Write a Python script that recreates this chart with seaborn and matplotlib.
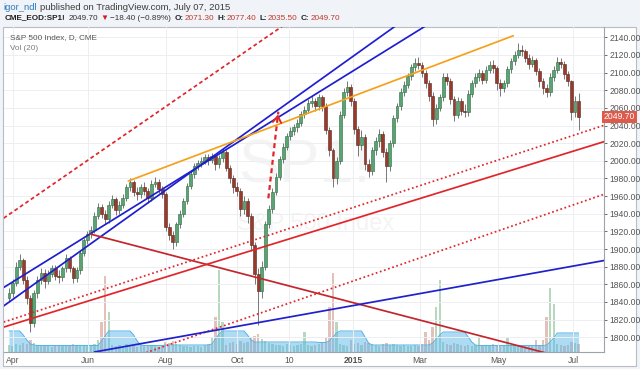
import numpy as np
import pandas as pd
import matplotlib
matplotlib.use("Agg")
import matplotlib.pyplot as plt
import seaborn as sns
from matplotlib.patches import Rectangle

# ---- daily candles, aggregated two sessions per candle ----
first_open = 1845
closes = [1850, 1862, 1880, 1888, 1865, 1845, 1816, 1850, 1865, 1873,
          1864, 1872, 1878, 1870, 1868, 1878, 1890, 1878, 1867, 1876,
          1895, 1910, 1917, 1922, 1938, 1948, 1940, 1934, 1950, 1957,
          1944, 1950, 1958, 1970, 1976, 1965, 1962, 1970, 1966, 1958,
          1974, 1976, 1968, 1962, 1925, 1916, 1908, 1928, 1940, 1955,
          1972, 1985, 1994, 1997, 2000, 2004, 2001, 2005, 1996, 2003,
          2010, 1992, 1980, 1970, 1966, 1945, 1955, 1938, 1905, 1872,
          1852, 1880, 1928, 1945, 1965, 1982, 2002, 2016, 2028, 2034,
          2038, 2043, 2053, 2058, 2066, 2068, 2062, 2072, 2062, 2035,
          2012, 1980, 2000, 2052, 2078, 2084, 2068, 2036, 2018, 2027,
          1996, 1988, 2012, 2022, 2030, 2010, 1994, 2020, 2048, 2062,
          2078, 2086, 2096, 2106, 2111, 2109, 2100, 2088, 2074, 2047,
          2060, 2072, 2095, 2091, 2070, 2052, 2068, 2057, 2055, 2076,
          2088, 2095, 2100, 2092, 2103, 2109, 2105, 2088, 2082, 2088,
          2104, 2113, 2120, 2126, 2124, 2117, 2110, 2114, 2102, 2090,
          2082, 2078, 2095, 2103, 2112, 2110, 2098, 2090, 2055, 2068,
          2049.7]
highs = [1856, 1866, 1885, 1894, 1890, 1870, 1848, 1854, 1869, 1878,
         1877, 1876, 1882, 1882, 1876, 1881, 1894, 1892, 1881, 1880,
         1898, 1913, 1921, 1926, 1942, 1952, 1951, 1944, 1954, 1961,
         1959, 1954, 1962, 1974, 1981, 1978, 1970, 1974, 1976, 1969,
         1978, 1982, 1979, 1972, 1965, 1930, 1920, 1931, 1944, 1958,
         1975, 1988, 1997, 2001, 2004, 2008, 2008, 2009, 2008, 2007,
         2014, 2012, 1995, 1984, 1976, 1969, 1960, 1958, 1941, 1908,
         1878, 1886, 1932, 1950, 1969, 1986, 2006, 2020, 2032, 2038,
         2042, 2047, 2057, 2062, 2070, 2073, 2071, 2076, 2075, 2065,
         2038, 2015, 2004, 2056, 2082, 2090, 2087, 2071, 2040, 2035,
         2030, 2002, 2016, 2027, 2036, 2034, 2014, 2024, 2052, 2066,
         2082, 2091, 2100, 2110, 2116, 2118, 2112, 2103, 2092, 2078,
         2064, 2076, 2099, 2100, 2094, 2074, 2072, 2071, 2064, 2080,
         2092, 2099, 2104, 2103, 2107, 2113, 2114, 2108, 2093, 2092,
         2108, 2117, 2124, 2134, 2131, 2127, 2121, 2119, 2117, 2105,
         2094, 2087, 2099, 2107, 2118, 2117, 2113, 2102, 2092, 2074,
         2077.4]
lows = [1840, 1846, 1858, 1876, 1860, 1838, 1806, 1812, 1845, 1860,
        1856, 1860, 1868, 1865, 1862, 1864, 1874, 1874, 1862, 1863,
        1872, 1892, 1906, 1913, 1918, 1934, 1935, 1928, 1930, 1946,
        1939, 1940, 1946, 1955, 1966, 1960, 1956, 1958, 1961, 1952,
        1955, 1970, 1963, 1958, 1920, 1910, 1900, 1904, 1924, 1936,
        1951, 1968, 1981, 1990, 1993, 1996, 1995, 1997, 1990, 1992,
        1999, 1988, 1975, 1964, 1960, 1938, 1940, 1930, 1898, 1860,
        1814, 1845, 1876, 1924, 1941, 1961, 1978, 1998, 2012, 2024,
        2029, 2033, 2039, 2049, 2054, 2061, 2056, 2058, 2057, 2030,
        2005, 1970, 1974, 1996, 2048, 2074, 2062, 2030, 2005, 2012,
        1990, 1982, 1984, 2007, 2016, 2004, 1976, 1989, 2016, 2044,
        2058, 2073, 2082, 2092, 2102, 2104, 2095, 2083, 2068, 2040,
        2042, 2056, 2068, 2086, 2064, 2045, 2048, 2052, 2050, 2051,
        2072, 2084, 2091, 2087, 2088, 2099, 2100, 2080, 2074, 2078,
        2084, 2100, 2109, 2116, 2119, 2112, 2104, 2106, 2097, 2084,
        2076, 2072, 2074, 2091, 2099, 2105, 2093, 2085, 2046, 2050,
        2035.5]

volume = [7, 6, 8, 7, 9, 8, 12, 9, 7, 6,
          7, 6, 5, 6, 7, 6, 7, 6, 8, 7,
          6, 7, 6, 7, 8, 12, 30, 76, 40, 7,
          6, 7, 6, 8, 7, 6, 5, 7, 6, 6,
          7, 6, 5, 6, 10, 9, 11, 8, 7, 6,
          6, 5, 6, 6, 5, 7, 8, 15, 35, 82,
          30, 7, 9, 10, 8, 11, 9, 10, 14, 16,
          18, 13, 11, 9, 8, 7, 7, 6, 8, 7,
          6, 7, 8, 20, 7, 6, 7, 8, 9, 15,
          45, 79, 30, 8, 7, 6, 12, 8, 9, 7,
          10, 9, 8, 7, 6, 8, 9, 7, 8, 7,
          6, 7, 6, 6, 7, 6, 8, 20, 12, 25,
          45, 72, 10, 8, 7, 9, 8, 7, 6, 7,
          6, 7, 14, 6, 7, 6, 8, 7, 6, 7,
          14, 6, 7, 6, 5, 6, 7, 6, 12, 7,
          12, 35, 64, 48, 8, 7, 6, 7, 10, 9,
          8]
volume_ma = [21, 21, 21, 21, 17, 12, 8, 7, 6.5, 6.5,
             6.5, 6.5, 6.5, 6.5, 6.5, 6.5, 6.5, 6.5, 6.5, 6.5,
             6.5, 6.5, 6.5, 6.5, 6.5, 6.5, 11, 16, 21, 21,
             21, 21, 21, 21, 21, 17, 11, 7, 6.5, 6.5,
             6.5, 6.5, 6.5, 6.5, 7, 7, 7, 7, 7, 7,
             7, 7, 7, 7, 7, 7, 7, 8, 13, 18,
             21, 21, 21, 21, 21, 21, 21, 17, 12, 10,
             10, 10, 10, 10, 10, 10, 10, 10, 10, 10,
             10, 10, 10, 10, 10, 10, 10, 9.5, 9.5, 9.5,
             11, 15, 19, 21, 21, 21, 21, 21, 21, 21,
             15, 9, 7, 7, 7, 7, 7, 7, 7, 7,
             7, 7, 7, 7, 7, 7, 7, 7, 7, 9,
             13, 17, 20, 20, 20, 20, 20, 20, 20, 15,
             10, 7, 6.5, 6.5, 6.5, 6.5, 6.5, 6.5, 6.5, 6.5,
             6.5, 6.5, 6.5, 6.5, 6.5, 6.5, 6.5, 6.5, 6.5, 6.5,
             6.5, 7, 10, 14, 19, 19, 19, 19, 19, 19,
             19]

# x axis (trading-day index) tick labels
tick_pos = [2.4, 44.5, 88, 128.3, 157.5, 193.4, 230.9, 274.9, 317]
tick_labels = ["Apr", "Jun", "Aug", "Oct", "10", "2015", "Mar", "May", "Jul"]
price_ticks = list(range(1800, 2141, 20))

# hand drawn trend lines: (day index pair, price pair)
trendlines = {
    "red_dash":     ([-3, 160],   [1935.0, 2161.5]),
    "blue_steep":   ([-3, 225],   [1835.5, 2164.2]),
    "blue_upper":   ([-3, 245],   [1856.4, 2166.6]),
    "orange":       ([67.0, 283.3], [1977.1, 2141.8]),
    "red_down":     ([45.5, 305], [1917.1, 1780.4]),
    "red_dot_hi":   ([-3, 336],   [1817.2, 2041.4]),
    "red_mid":      ([-3, 336],   [1811.5, 2022.8]),
    "red_dot_lo":   ([77, 336],   [1782.6, 1963.3]),
    "blue_low":     ([48, 336],   [1783.3, 1887.6]),
}
line_style = {
    "red_dash":   ("#e0262a", (2.2, 1.6)),
    "blue_steep": ("#1f1fcf", None),
    "blue_upper": ("#1f1fcf", None),
    "orange":     ("#f4a21c", None),
    "red_down":   ("#c3262c", None),
    "red_dot_hi": ("#e0262a", (1.0, 1.5)),
    "red_mid":    ("#e0262a", None),
    "red_dot_lo": ("#e0262a", (1.0, 1.5)),
    "blue_low":   ("#2020cc", None),
}
arrow_d = [145.7, 151.3]
arrow_p = [1957.5, 2055.7]
last_price = 2049.7

sns.set_style("white")
plt.rcParams["font.family"] = ["Liberation Sans", "DejaVu Sans"]

W, H = 640, 369
fig = plt.figure(figsize=(6.4, 3.69), dpi=100, facecolor="#f0f3f7")


def fx(px):
    return px / W


def fy(py):
    return 1 - py / H


# white chart panel with its frame
fig.patches.append(Rectangle((fx(3), fy(366)), fx(636) - fx(3), fy(27) - fy(366),
                             transform=fig.transFigure, facecolor="white",
                             edgecolor="#b9bec6", lw=0.8, zorder=0))

rect = [fx(4), fy(352), fx(604) - fx(4), fy(27) - fy(352)]
axv = fig.add_axes(rect, zorder=1)
ax = fig.add_axes(rect, zorder=2)
ax.set_facecolor("none")
axv.set_facecolor("none")

xmin, xmax = -2.81, 334.27
ymin, ymax = 1783.3, 2151.7

df = pd.DataFrame({"c": closes, "h": highs, "l": lows, "v": volume, "vma": volume_ma})
df["o"] = [first_open] + closes[:-1]
df["x"] = np.arange(len(df)) * 2
df["up"] = df["c"] >= df["o"]

# ---- volume pane ----
axv.bar(df["x"], df["v"], width=1.3, linewidth=0,
        color=np.where(df["up"], "#b7d7bf", "#e2c1bb"))
axv.fill_between(df["x"], df["vma"], color="#5cb9ea", alpha=0.5, lw=0)
axv.plot(df["x"], df["vma"], color="#55b2e4", lw=0.7)
axv.set_xlim(xmin, xmax)
axv.set_ylim(0, 325)
axv.axis("off")

# ---- watermark ----
ax.text(0.50, 0.57, "SP1!", transform=ax.transAxes, fontsize=44, color="#f4f4f4",
        ha="center", va="center", zorder=0.5)
ax.text(0.52, 0.395, "S&P 500 Index", transform=ax.transAxes, fontsize=17,
        color="#f4f4f4", ha="center", va="center", zorder=0.5)

# ---- candles ----
ax.vlines(df["x"], df["l"], df["h"], color="#626262", lw=0.6, zorder=3)
body_lo = np.minimum(df["o"], df["c"])
body_h = np.maximum((df["c"] - df["o"]).abs(), 0.8)
ax.bar(df["x"], body_h, bottom=body_lo, width=1.6, zorder=4, lw=0.4,
       color=np.where(df["up"], "#5aa372", "#973c2d"),
       edgecolor=np.where(df["up"], "#2c6a40", "#5d2419"))

# ---- trend lines ----
for name, (dx, py) in trendlines.items():
    color, dashes = line_style[name]
    kw = {"dashes": dashes} if dashes else {}
    sns.lineplot(x=dx, y=py, ax=ax, color=color, lw=1.25, sort=False,
                 estimator=None, zorder=5, **kw)

sns.lineplot(x=arrow_d, y=arrow_p, ax=ax, color="#e0262a", lw=1.6, sort=False,
             estimator=None, dashes=(2.2, 1.6), zorder=5)
ax.annotate("", xy=(arrow_d[1], arrow_p[1]),
            xytext=(arrow_d[1] - 0.6, arrow_p[1] - 10),
            arrowprops=dict(arrowstyle="->,head_length=0.45,head_width=0.3",
                            color="#e0262a", lw=1.4), zorder=6)

# ---- axes styling ----
ax.set_xlim(xmin, xmax)
ax.set_ylim(ymin, ymax)
ax.yaxis.tick_right()
ax.set_yticks(price_ticks)
ax.set_yticklabels([f"{p:.2f}" for p in price_ticks])
ax.set_xticks(tick_pos)
ax.set_xticklabels(tick_labels)
for lab in ax.get_xticklabels():
    if lab.get_text() == "2015":
        lab.set_fontweight("bold")
ax.tick_params(axis="y", labelsize=6.2, colors="#555555", length=2.5, width=0.6,
               pad=1.5, right=True)
ax.tick_params(axis="x", labelsize=6.2, colors="#555555", length=0, pad=3)
ax.grid(True, color="#eceef2", lw=0.7)
ax.set_axisbelow(True)
for s in ["top", "left"]:
    ax.spines[s].set_visible(False)
for s in ["right", "bottom"]:
    ax.spines[s].set_color("#9da3ab")
    ax.spines[s].set_linewidth(0.8)
ax.set_xlabel("")
ax.set_ylabel("")

# last price tag
ax.text(1.0, last_price, f"{last_price:.2f}", transform=ax.get_yaxis_transform(),
        ha="left", va="center", fontsize=6.2, color="white", clip_on=False,
        bbox=dict(boxstyle="square,pad=0.18", facecolor="#de5b4b", edgecolor="none"))

# ---- headers: pieces laid out one after another ----
renderer = fig.canvas.get_renderer()


def text_row(pieces, x0, y0, size):
    x = x0
    for txt, col, wt, gap in pieces:
        t = fig.text(fx(x), fy(y0), txt, color=col, fontsize=size, fontweight=wt,
                     va="center")
        bb = t.get_window_extent(renderer)
        x += bb.width + gap


text_row([("igor_ndl", "#2b7bbf", "normal", 3),
          ("published on TradingView.com, July 07, 2015", "#3d3d3d", "normal", 0)],
         3, 7, 6.8)
text_row([("CME_EOD:SP1!", "#222222", "bold", 3),
          ("2049.70", "#333333", "normal", 2),
          ("\u25bc", "#cc2222", "normal", 2),
          ("\u221218.40 (\u22120.89%)", "#333333", "normal", 3),
          ("O:", "#222222", "bold", 1),
          ("2071.30", "#c0392b", "normal", 3),
          ("H:", "#222222", "bold", 1),
          ("2077.40", "#c0392b", "normal", 3),
          ("L:", "#222222", "bold", 1),
          ("2035.50", "#c0392b", "normal", 3),
          ("C:", "#222222", "bold", 1),
          ("2049.70", "#c0392b", "normal", 0)], 5, 18, 5.9)

fig.text(fx(10), fy(37.5), "S&P 500 Index, D, CME", color="#555555", fontsize=5.9, va="center")
fig.text(fx(10), fy(48.5), "Vol (20)", color="#7a7a7a", fontsize=5.9, va="center")

fig.savefig("out.png", dpi=100, facecolor=fig.get_facecolor())
